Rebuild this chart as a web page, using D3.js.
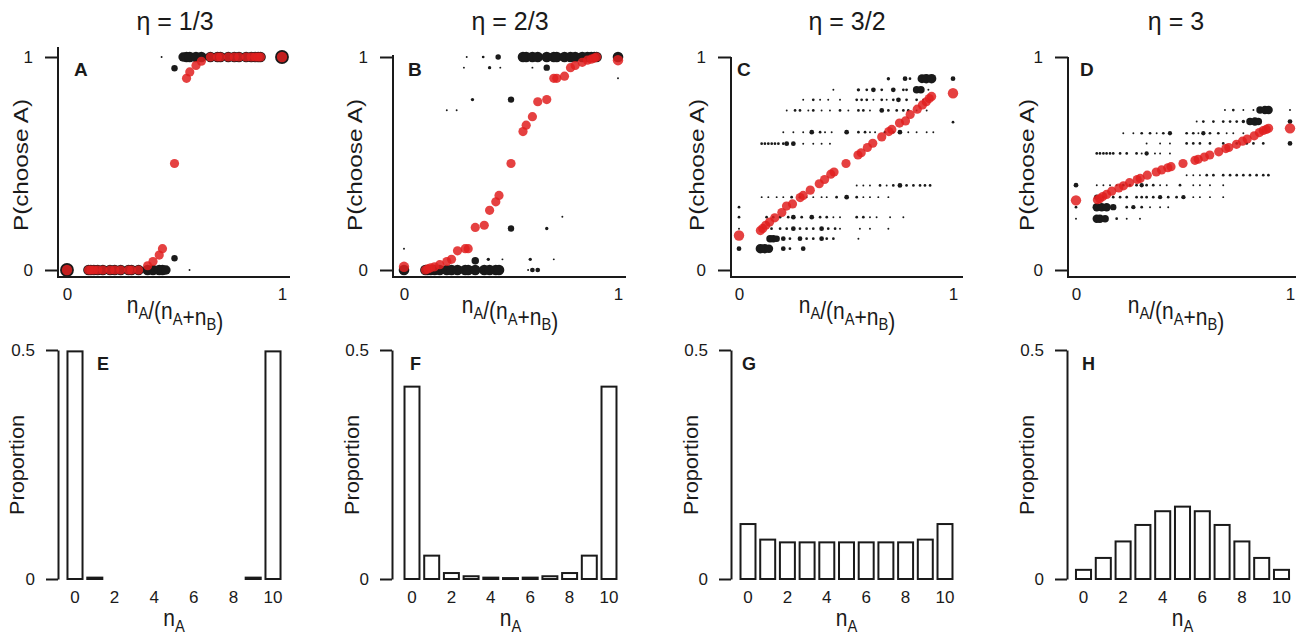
<!DOCTYPE html>
<html><head><meta charset="utf-8">
<script src="https://cdn.jsdelivr.net/npm/d3@7"></script>
<style>
body{margin:0;background:#fff;}
svg text{font-family:"Liberation Sans",Arial,sans-serif;fill:#1a1a1a;}
</style></head><body>
<svg id="chart" width="1302" height="635"></svg>
<script>
// ---------------- DATA ----------------
const etaLabels = ["η = 1/3", "η = 2/3", "η = 3/2", "η = 3"];
const topLetters = ["A", "B", "C", "D"];
const bottomLetters = ["E", "F", "G", "H"];
const topYTicks = [0, 1];
const topXTicks = [0, 1];
const bottomYTicks = [0, 0.5];
const bottomXTicks = [0, 2, 4, 6, 8, 10];

// x = nA/(nA+nB) values at which the mean (red) points sit
const fracX = [0, .1, .111, .125, .143, .167, .2, .222, .25, .286, .3, .333, .375, .4, .429, .444, .5,
  .556, .571, .6, .625, .667, .7, .714, .75, .778, .8, .833, .857, .875, .889, .9, 1];

const redA = [0, 0,0,0,0,0,0,0,0,0,0,0, .02, .04, .07, .1, .5, .9, .93, .96, .98, 1,1,1,1,1,1,1,1,1,1,1, 1];
const redB = [.015, 0, .005, .01, .015, .025, .04, .05, .09, .1, .1, .2, .21, .28, .32, .35, .5,
  .65, .68, .72, .79, .8, .9, .9, .91, .95, .96, .975, .985, .99, .995, 1, .985];
const redC = [.162, .185, .195, .21, .225, .245, .27, .3, .31, .34, .35, .375, .405, .425, .45, .46, .5,
  .54, .55, .575, .595, .625, .65, .66, .69, .7, .73, .755, .775, .79, .805, .815, .83];
const redD = [.327, .33, .335, .345, .355, .37, .385, .395, .41, .425, .43, .445, .46, .47, .48, .485, .5,
  .515, .52, .53, .54, .555, .57, .575, .59, .605, .615, .63, .645, .655, .66, .665, .665];

// individual outcomes: [x, P(choose A), weight]
const blackA = [
  [0,0,51],[.1,0,30],[.111,0,30],[.125,0,30],[.143,0,30],[.167,0,30],[.2,0,30],[.222,0,30],[.25,0,30],
  [.286,0,30],[.3,0,30],[.333,0,30],[.375,0,30],[.4,0,30],[.429,0,30],[.444,0,30],[.46,0,24],
  [.5,.055,11],[.5,.947,11],[.44,1,1],[.57,0,1],
  [.54,1,24],[.556,1,30],[.571,1,30],[.6,1,30],[.625,1,30],[.667,1,30],[.7,1,30],[.714,1,30],[.75,1,30],[.778,1,30],
  [.8,1,30],[.833,1,30],[.857,1,30],[.875,1,30],[.889,1,30],[.9,1,30],[1,1,51]
];
const blackB = [
  [0,0,30],[.1,0,30],[.111,0,30],[.125,0,30],[.143,0,30],[.167,0,30],[.2,0,30],[.222,0,30],[.25,0,30],
  [.286,0,30],[.3,0,30],[.333,0,30],[.375,0,30],[.4,0,30],[.429,0,30],[.444,0,30],
  [.556,1,30],[.571,1,30],[.6,1,30],[.625,1,30],[.667,1,30],[.7,1,30],[.714,1,30],[.75,1,30],[.778,1,30],
  [.8,1,30],[.833,1,30],[.857,1,30],[.875,1,30],[.889,1,30],[.9,1,30],[1,1,30],
  [.333,.044,15],[.5,.195,11],[.5,.8,11],[.667,.95,11],[.44,1,8],[.4,.95,3],[.32,.8,3],[.246,.75,1],
  [.667,.195,3],[.59,.05,3],[.394,.05,3],[.46,.05,1],[.7,.05,1],[.6,0,6],[.625,0,6],[.58,0,1],
  [.293,1,1],[.37,1,2],[.28,.95,1],[.45,.95,1],[.6,.95,1],[0,.1,1],[1,.9,1],[.74,.25,1],[.2,.75,1]
];
const blackC = [
  [.698,.898,3],[.776,.898,6],[.799,.898,2],[.855,.898,21],[.875,.898,24],[.9,.898,24],[1,.898,6],
  [.441,.846,1],[.558,.846,3],[.597,.846,2],[.628,.846,6],[.667,.846,2],[.721,.846,6],[.768,.846,2],[.783,.846,2],[.83,.846,15],[.85,.846,15],[.885,.846,1],
  [.3,.799,1],[.347,.799,2],[.379,.799,1],[.417,.799,1],[.472,.799,1],[.55,.799,2],[.573,.799,2],[.597,.799,2],[.628,.799,1],[.667,.799,2],[.69,.799,1],[.721,.799,2],[.745,.799,6],[.783,.799,2],[.83,.799,2],[.861,.799,1],[.893,.799,1],
  [.223,.749,1],[.262,.749,2],[.285,.749,2],[.324,.749,1],[.347,.749,2],[.386,.749,1],[.425,.749,1],[.472,.749,2],[.511,.749,1],[.558,.749,2],[.581,.749,2],[.612,.749,1],[.667,.749,6],[.698,.749,2],[.737,.749,2],[.768,.749,2],[.791,.749,2],[.83,.749,1],[.877,.749,1],
  [.207,.647,1],[.254,.647,1],[.3,.647,1],[.34,.647,6],[.379,.647,2],[.402,.647,1],[.433,.647,1],[.503,.647,6],[.558,.647,2],[.589,.647,2],[.612,.647,1],[.636,.647,1],[.682,.647,2],[.721,.647,2],[.752,.647,6],[.791,.647,1],[.83,.647,1],[.877,.647,1],[.908,.647,1],
  [.106,.593,2],[.121,.593,2],[.137,.593,2],[.153,.593,2],[.168,.593,2],[.184,.593,2],[.207,.593,2],[.223,.593,6],[.254,.593,6],[.3,.593,1],[.347,.593,1],[.386,.593,1],[.425,.593,1],
  [.55,.397,1],[.581,.397,1],[.612,.397,1],[.659,.397,2],[.69,.397,1],[.721,.397,2],[.752,.397,6],[.783,.397,2],[.815,.397,2],[.846,.397,2],[.869,.397,2],[.893,.397,2],
  [.106,.342,1],[.137,.342,1],[.176,.342,1],[.207,.342,1],[.246,.342,2],[.285,.342,2],[.316,.342,1],[.347,.342,1],[.386,.342,1],[.41,.342,1],[.456,.342,2],[.503,.342,6],[.55,.342,2],[.581,.342,1],[.612,.342,1],[.651,.342,1],[.698,.342,1],
  [0,.248,2],[.129,.248,2],[.16,.248,2],[.192,.248,2],[.23,.248,2],[.254,.248,6],[.293,.248,2],[.34,.248,6],[.379,.248,2],[.41,.248,2],[.441,.248,1],[.472,.248,1],[.55,.248,2],[.581,.248,2],[.612,.248,1],[.643,.248,1],[.706,.248,1],[.768,.248,1],
  [0,.194,1],[.152,.194,2],[.192,.194,2],[.223,.194,2],[.254,.194,6],[.285,.194,2],[.316,.194,2],[.347,.194,2],[.386,.194,6],[.417,.194,2],[.449,.194,2],[.472,.194,1],[.565,.194,1],[.612,.194,1],[.698,.194,1],
  [.145,.147,15],[.16,.147,15],[.176,.147,11],[.207,.147,6],[.238,.147,2],[.285,.147,6],[.316,.147,2],[.347,.147,2],[.386,.147,6],[.41,.147,2],[.441,.147,2],[.558,.147,1],
  [0,.1,6],[.1,.1,24],[.12,.1,24],[.14,.1,19],[.207,.1,6],[.238,.1,2],[.3,.1,6],
  [0,.295,2],[1,.694,2]
];
const blackD = [
  [.696,.751,1],[.735,.751,2],[.782,.751,1],[.829,.751,1],[.86,.751,15],[.883,.751,19],[.9,.751,19],[1,.751,1],
  [.564,.697,1],[.595,.697,2],[.642,.697,2],[.688,.697,2],[.72,.697,2],[.751,.697,2],[.782,.697,3],[.813,.697,15],[.836,.697,19],[.852,.697,15],[1,.697,6],
  [.221,.642,1],[.268,.642,1],[.307,.642,2],[.346,.642,2],[.377,.642,1],[.408,.642,2],[.439,.642,5],[.517,.642,2],[.548,.642,2],[.572,.642,1],[.595,.642,5],[.626,.642,2],[.665,.642,2],[.704,.642,1],[.735,.642,1],[.782,.642,1],
  [.33,.594,1],[.393,.594,1],[.439,.594,1],[.517,.594,2],[.548,.594,2],[.579,.594,2],[.626,.594,2],[.688,.594,2],[.751,.594,2],[.798,.594,2],[.829,.594,2],[.875,.594,2],[1,.594,6],
  [.097,.547,2],[.112,.547,2],[.128,.547,2],[.143,.547,2],[.159,.547,2],[.174,.547,2],[.206,.547,2],[.237,.547,2],[.283,.547,2],[.307,.547,1],[.33,.547,5],[.369,.547,1],[.393,.547,1],[.439,.547,1],
  [.517,.445,1],[.548,.445,1],[.579,.445,1],[.611,.445,2],[.642,.445,2],[.688,.445,2],[.72,.445,2],[.751,.445,2],[.782,.445,2],[.813,.445,2],[.844,.445,2],[.875,.445,2],[.899,.445,2],
  [0,.398,6],[.097,.398,1],[.128,.398,1],[.159,.398,1],[.19,.398,1],[.221,.398,2],[.252,.398,2],[.283,.398,2],[.307,.398,5],[.33,.398,2],[.361,.398,2],[.393,.398,1],[.424,.398,1],[.486,.398,2],[.548,.398,1],[.579,.398,1],[.626,.398,1],[.688,.398,1],
  [.097,.342,8],[.128,.342,2],[.174,.342,2],[.206,.342,2],[.237,.342,2],[.283,.342,2],[.307,.342,2],[.33,.342,2],[.361,.342,2],[.393,.342,5],[.431,.342,2],[.47,.342,2],[.502,.342,5],[.548,.342,1],[.579,.342,1],[.626,.342,1],[.688,.342,1],
  [0,.295,2],[.097,.295,19],[.12,.295,19],[.143,.295,19],[.174,.295,11],[.237,.295,2],[.268,.295,5],[.307,.295,2],[.346,.295,1],[.393,.295,1],[.431,.295,1],
  [0,.241,1],[.097,.241,19],[.112,.241,19],[.136,.241,15],[.19,.241,2],[.237,.241,1],[.299,.241,1]
];

// histograms of nA
const nAValues = [0,1,2,3,4,5,6,7,8,9,10];
const propE = [.497, .003, 0, 0, 0, 0, 0, 0, 0, .003, .497];
const propF = [.42, .051, .013, .006, .003, .002, .003, .006, .013, .051, .42];
const propG = [.12, .086, .08, .08, .08, .08, .08, .08, .08, .086, .12];
const propH = [.02, .046, .082, .118, .148, .158, .148, .118, .082, .046, .02];

// ---------------- LAYOUT ----------------
const svg = d3.select("#chart");
const INK = "#1a1a1a";
const RED = "#e02020";
const FONT = '"Liberation Sans",Arial,sans-serif';

const topPanels = [
  {axisX:58,  x0:67,   x1:282,  xEnd:290,  axisTop:47, cx:175,  letterX:74,   ylabX:28,   red:redA, black:blackA},
  {axisX:393, x0:404,  x1:618,  xEnd:626,  axisTop:55, cx:510,  letterX:408,  ylabX:362,  red:redB, black:blackB},
  {axisX:731, x0:739,  x1:953,  xEnd:963,  axisTop:57, cx:847,  letterX:737,  ylabX:704,  red:redC, black:blackC},
  {axisX:1068,x0:1076, x1:1290, xEnd:1296, axisTop:57, cx:1176, letterX:1080, ylabX:1034, red:redD, black:blackD}
];
const bottomPanels = [
  {axisX:58,  c0:75,     c10:273,    letterX:97,   ylabX:24,   vals:propE},
  {axisX:392, c0:412,    c10:609,    letterX:410,  ylabX:359,  vals:propF},
  {axisX:731, c0:748,    c10:945,    letterX:742,  ylabX:698,  vals:propG},
  {axisX:1067,c0:1083.5, c10:1281.5, letterX:1082, ylabX:1034, vals:propH}
];

const rScale = d3.scaleSqrt().domain([0, 30]).range([0, 5.3]);

function subLabel(g, x, y, parts, size) {
  const t = g.append("text").attr("transform", `translate(${x},${y}) scale(1,1.15)`)
    .attr("text-anchor", "middle").attr("font-size", size);
  parts.forEach(p => {
    if (p.sub) {
      t.append("tspan").attr("font-size", size * 0.7).attr("dy", 5).text(p.t);
      t.append("tspan").attr("dy", -5).text("");
    } else {
      t.append("tspan").text(p.t);
    }
  });
  return t;
}
function styleTicks(sel) {
  sel.selectAll("text").attr("font-size", 17).attr("fill", INK).style("font-family", FONT);
}

// ---------------- TOP PANELS ----------------
topPanels.forEach((p, i) => {
  const g = svg.append("g");
  const x = d3.scaleLinear().domain([0, 1]).range([p.x0, p.x1]);
  const y = d3.scaleLinear().domain([0, 1]).range([270, 57]);
  const xAxisY = 277;

  // title
  g.append("text").attr("transform", `translate(${p.cx},30) scale(1,1.05)`).attr("text-anchor", "middle")
    .attr("font-size", 25).text(etaLabels[i]);

  // axes lines
  g.append("line").attr("x1", p.axisX).attr("x2", p.axisX).attr("y1", p.axisTop).attr("y2", xAxisY)
    .attr("stroke", INK).attr("stroke-width", 2);
  g.append("line").attr("x1", p.axisX - 1).attr("x2", p.xEnd).attr("y1", xAxisY).attr("y2", xAxisY)
    .attr("stroke", INK).attr("stroke-width", 2);

  const ya = g.append("g").attr("transform", `translate(${p.axisX},0)`)
    .call(d3.axisLeft(y).tickValues(topYTicks).tickSize(13).tickPadding(12).tickFormat(d3.format("d")));
  ya.select(".domain").remove();
  ya.selectAll("line").attr("stroke", INK).attr("stroke-width", 2);
  styleTicks(ya);

  const xa = g.append("g").attr("transform", `translate(0,${xAxisY})`)
    .call(d3.axisBottom(x).tickValues(topXTicks).tickSize(0).tickPadding(11).tickFormat(d3.format("d")));
  xa.select(".domain").remove();
  styleTicks(xa);

  // black outcome dots
  g.append("g").selectAll("circle").data(p.black).join("circle")
    .attr("cx", d => x(d[0])).attr("cy", d => y(d[1])).attr("r", d => rScale(d[2]))
    .attr("fill", INK);

  // red mean dots
  const reds = fracX.map((v, k) => ({x: v, y: p.red[k]}));
  g.append("g").selectAll("circle").data(reds).join("circle")
    .attr("cx", d => x(d.x)).attr("cy", d => y(d.y))
    .attr("r", d => (d.x === 0 || d.x === 1) ? 5.2 : 4.6)
    .attr("fill", RED).attr("fill-opacity", 0.85);

  // panel letter
  g.append("text").attr("x", p.letterX).attr("y", 76).attr("font-size", 19)
    .attr("font-weight", "bold").text(topLetters[i]);

  // y label
  g.append("text").attr("transform", `translate(${p.ylabX},165) rotate(-90)`)
    .attr("text-anchor", "middle").attr("font-size", 20)
    .attr("textLength", 132).attr("lengthAdjust", "spacingAndGlyphs").text("P(choose A)");

  // x label
  subLabel(g, p.cx, 313, [{t:"n"},{t:"A",sub:true},{t:"/(n"},{t:"A",sub:true},{t:"+n"},{t:"B",sub:true},{t:")"}], 21);
});

// ---------------- BOTTOM PANELS ----------------
bottomPanels.forEach((p, i) => {
  const g = svg.append("g");
  const step = (p.c10 - p.c0) / 10;
  const x = d3.scaleBand().domain(nAValues).range([p.c0 - step / 2, p.c10 + step / 2])
    .paddingInner(0.24).paddingOuter(0.12);
  const y = d3.scaleLinear().domain([0, 0.5]).range([579, 350]);

  const ya = g.append("g").attr("transform", `translate(${p.axisX},0)`)
    .call(d3.axisLeft(y).tickValues(bottomYTicks).tickSize(12).tickSizeOuter(0).tickPadding(11)
      .tickFormat(d => d === 0 ? "0" : d3.format(".1f")(d)));
  ya.select(".domain").attr("stroke", INK).attr("stroke-width", 2);
  ya.selectAll("line").attr("stroke", INK).attr("stroke-width", 2);
  styleTicks(ya);

  const xa = g.append("g").attr("transform", `translate(0,579)`)
    .call(d3.axisBottom(x).tickValues(bottomXTicks).tickSize(0).tickPadding(12));
  xa.select(".domain").remove();
  styleTicks(xa);

  g.append("g").selectAll("rect").data(p.vals).join("rect")
    .attr("x", (d, k) => x(nAValues[k])).attr("width", x.bandwidth())
    .attr("y", d => y(d)).attr("height", d => y(0) - y(d))
    .attr("fill", "#fff").attr("stroke", INK).attr("stroke-width", 2);

  g.append("text").attr("x", p.letterX).attr("y", 370).attr("font-size", 18)
    .attr("font-weight", "bold").text(bottomLetters[i]);

  g.append("text").attr("transform", `translate(${p.ylabX},465) rotate(-90)`)
    .attr("text-anchor", "middle").attr("font-size", 20)
    .attr("textLength", 100).attr("lengthAdjust", "spacingAndGlyphs").text("Proportion");

  subLabel(g, (p.c0 + p.c10) / 2, 626, [{t:"n"},{t:"A",sub:true}], 21);
});
</script>
</body></html>
